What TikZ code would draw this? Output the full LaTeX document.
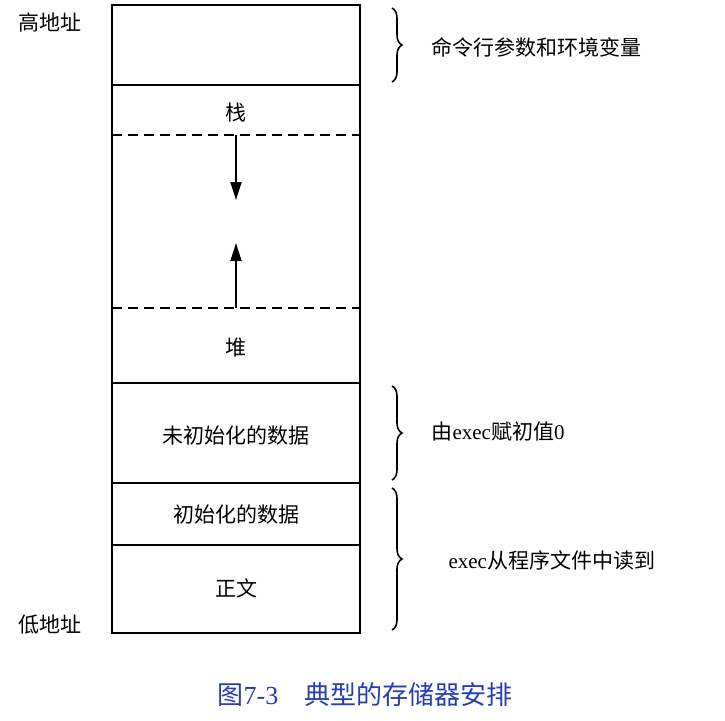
\documentclass[tikz,border=0pt]{standalone}
\usepackage{fontspec}
\setmainfont{Liberation Serif}
\newfontfamily\cjk{Noto Sans CJK SC}
\usetikzlibrary{decorations.pathreplacing,arrows.meta}
\begin{document}
\begin{tikzpicture}[x=1pt,y=-1pt,
    seglabel/.style={font=\cjk\fontsize{21}{25}\selectfont},
    sidelabel/.style={font=\fontsize{21}{25}\selectfont, anchor=west},
    membrace/.style={line width=1.6pt, decoration={brace, amplitude=10pt}, decorate},
    growarrow/.style={line width=1.8pt, -{Triangle[length=18pt, width=11pt]}}]
    \useasboundingbox (0,0) rectangle (725,720);

    % memory column
    \draw[line width=1.6pt] (112,5) rectangle (360,633);
    \foreach \y in {85,383,483,545} \draw[line width=1.6pt] (112,\y) -- (360,\y);
    \foreach \y in {135,308} \draw[line width=1.6pt, dash pattern=on 10pt off 6pt] (112,\y) -- (360,\y);

    % segment labels
    \node[seglabel] (stack) at (236,113) {栈};
    \node[seglabel] (heap) at (236,348) {堆};
    \node[seglabel] (bss) at (236,436) {未初始化的数据};
    \node[seglabel] (data) at (236,515) {初始化的数据};
    \node[seglabel] (text) at (236,588) {正文};

    % growth arrows
    \coordinate (stacktop) at (236,135);
    \coordinate (stacktip) at (236,200);
    \coordinate (heaptop) at (236,308);
    \coordinate (heaptip) at (236,243);
    \draw[growarrow] (stacktop) -- (stacktip);
    \draw[growarrow] (heaptop) -- (heaptip);

    % addresses
    \node[seglabel] (high) at (50,22) {高地址};
    \node[seglabel] (low) at (50,625) {低地址};

    % braces on the right
    \coordinate (argtop) at (392,8);
    \coordinate (argbot) at (392,82);
    \coordinate (bsstop) at (392,386);
    \coordinate (bssbot) at (392,480);
    \coordinate (ldtop) at (392,488);
    \coordinate (ldbot) at (392,630);
    \draw[membrace] (argtop) -- (argbot);
    \draw[membrace] (bsstop) -- (bssbot);
    \draw[membrace] (ldtop) -- (ldbot);

    \node[sidelabel] (args) at (428,47) {\cjk 命令行参数和环境变量};
    \node[sidelabel] (bssnote) at (428,432) {{\cjk 由}exec{\cjk 赋初值}0};
    \node[sidelabel] (ldnote) at (445,560) {exec{\cjk 从程序文件中读到}};

    % caption
    \node[font=\fontsize{26}{30}\selectfont, text={rgb,255:red,40;green,60;blue,180}] (caption) at (365,695) {{\cjk 图}7-3\quad{\cjk 典型的存储器安排}};
\end{tikzpicture}
\end{document}
